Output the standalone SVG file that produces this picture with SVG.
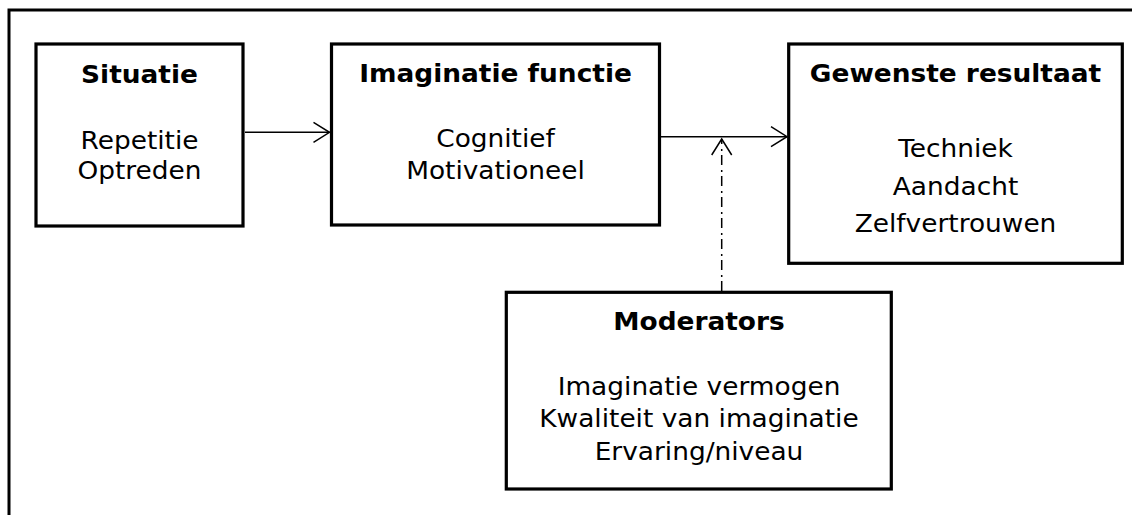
<svg xmlns="http://www.w3.org/2000/svg" width="1132" height="515" viewBox="0 0 1132 515">
  <style>
    .frame { fill: none; stroke: #000; stroke-width: 3; }
    .box { fill: #fff; stroke: #000; stroke-width: 3.2; }
    .t { font-family: "DejaVu Sans", Verdana, sans-serif; font-size: 24px; fill: #000; text-anchor: middle; }
    .b { font-weight: bold; }
    .conn { fill: none; stroke: #000; stroke-width: 1.5; }
    .dashdot { stroke-dasharray: 10 4 2 5; }
  </style>
  <defs>
    <marker id="open" markerUnits="userSpaceOnUse" markerWidth="20" markerHeight="24" viewBox="-18 -12 20 24" refX="0" refY="0" orient="auto">
      <path d="M-16,-10 L0,0 L-16,10" fill="none" stroke="#000" stroke-width="1.5"/>
    </marker>
  </defs>
  <rect width="1132" height="515" fill="#fff"/>
  <path class="frame" d="M9,515 L9,10 L1132,10"/>

  <g id="connectors">
    <line class="conn" x1="245" y1="132.3" x2="329.5" y2="132.3" marker-end="url(#open)"/>
    <line class="conn" x1="661" y1="136.7" x2="787" y2="136.7" marker-end="url(#open)"/>
    <line class="conn dashdot" x1="721.7" y1="291" x2="721.7" y2="139" marker-end="url(#open)"/>
  </g>

  <g id="situatie">
    <rect class="box" x="36" y="44" width="207" height="182"/>
    <g transform="translate(139.5,0) scale(1.1,1)">
      <text class="t b" x="0" y="83">Situatie</text>
      <text class="t" x="0" y="149">Repetitie</text>
      <text class="t" x="0" y="179">Optreden</text>
    </g>
  </g>

  <g id="imaginatie">
    <rect class="box" x="331.5" y="44" width="328" height="181"/>
    <g transform="translate(495.5,0) scale(1.1,1)">
      <text class="t b" x="0" y="82">Imaginatie functie</text>
      <text class="t" x="0" y="147.5">Cognitief</text>
      <text class="t" x="0" y="179">Motivationeel</text>
    </g>
  </g>

  <g id="gewenste">
    <rect class="box" x="788.7" y="44" width="333.6" height="219.3"/>
    <g transform="translate(955.5,0) scale(1.1,1)">
      <text class="t b" x="0" y="82">Gewenste resultaat</text>
      <text class="t" x="0" y="157">Techniek</text>
      <text class="t" x="0" y="195">Aandacht</text>
      <text class="t" x="0" y="232">Zelfvertrouwen</text>
    </g>
  </g>

  <g id="moderators">
    <rect class="box" x="506.3" y="292.3" width="385" height="196.7"/>
    <g transform="translate(699,0) scale(1.1,1)">
      <text class="t b" x="0" y="330.5">Moderators</text>
      <text class="t" x="0" y="395">Imaginatie vermogen</text>
      <text class="t" x="0" y="426.7">Kwaliteit van imaginatie</text>
      <text class="t" x="0" y="460">Ervaring/niveau</text>
    </g>
  </g>
</svg>
